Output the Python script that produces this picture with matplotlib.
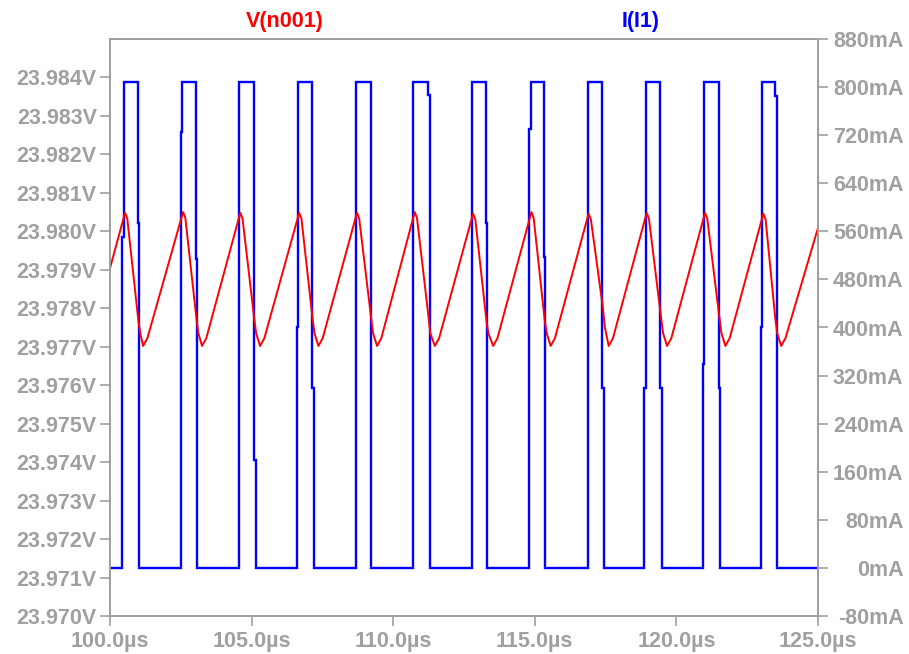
import matplotlib
matplotlib.use("Agg")
import matplotlib.pyplot as plt
from matplotlib.ticker import FixedLocator, FuncFormatter

# ---------------- data ----------------
# I(I1) current pulses (mA)
i_low = 0
i_high = 808
i_rise_t = [100.441, 102.503, 104.553, 106.600, 108.683, 110.684,
            112.767, 114.800, 116.861, 118.859, 120.941, 123.002]
i_rise_skew = [0.060, 0.050, 0.010, 0.046, 0.010, 0.030,
               0.020, 0.050, 0.020, 0.060, 0.035, 0.035]
i_rise_jog = [551, 725, 400, 400, 400, 551, 562, 730, 580, 300, 340, 400]
i_fall_t = [100.981, 103.028, 105.072, 107.130, 109.202, 111.224,
            113.271, 115.329, 117.376, 119.437, 121.495, 123.472]
i_fall_skew = [0.042, 0.053, 0.070, 0.060, 0.030, 0.070,
               0.025, 0.020, 0.050, 0.056, 0.060, 0.081]
i_fall_jog = [574, 514, 180, 300, 138, 787, 574, 517, 300, 300, 300, 785]

# V(n001) voltage (V)
v_start_t, v_start = 100.0, 23.97904
v_end_t, v_end = 125.0, 23.98009
v_peak_t = [100.53, 102.58, 104.60, 106.68, 108.72, 110.76,
            112.82, 114.88, 116.90, 118.95, 121.01, 123.07]
v_peak = [23.98048, 23.98050, 23.98048, 23.98048, 23.98048, 23.98050,
          23.98046, 23.98050, 23.98046, 23.98048, 23.98048, 23.98046]
v_drop_t = [101.00, 103.05, 105.09, 107.15, 109.22, 111.24,
            113.29, 115.35, 117.40, 119.46, 121.52, 123.49]
v_drop = [23.97769, 23.97775, 23.97775, 23.97775, 23.97775, 23.97782,
          23.97769, 23.97769, 23.97804, 23.97775, 23.97775, 23.97775]
v_step = [23.97735, 23.97735, 23.97735, 23.97735, 23.97735, 23.97735,
          23.97735, 23.97735, 23.97752, 23.97735, 23.97735, 23.97735]
v_min_t = [101.17, 103.25, 105.30, 107.36, 109.43, 111.47,
           113.53, 115.56, 117.61, 119.67, 121.73, 123.70]
v_min = [23.97702, 23.97702, 23.97702, 23.97702, 23.97702, 23.97702,
         23.97702, 23.97702, 23.97702, 23.97702, 23.97702, 23.97702]

x_ticks = [100, 105, 110, 115, 120, 125]
v_ticks = [23.970, 23.971, 23.972, 23.973, 23.974, 23.975, 23.976, 23.977,
           23.978, 23.979, 23.980, 23.981, 23.982, 23.983, 23.984]
i_ticks = [-80, 0, 80, 160, 240, 320, 400, 480, 560, 640, 720, 800, 880]

# ---------------- build traces ----------------
it = [v_start_t]
iv = [i_low]
for k in range(len(i_rise_t)):
    rt, rs, rj = i_rise_t[k], i_rise_skew[k], i_rise_jog[k]
    ft, fs, fj = i_fall_t[k], i_fall_skew[k], i_fall_jog[k]
    it += [rt, rt, rt + rs, rt + rs, ft, ft, ft + fs, ft + fs]
    iv += [i_low, rj, rj, i_high, i_high, fj, fj, i_low]
it.append(v_end_t)
iv.append(i_low)

vt = [v_start_t]
vv = [v_start]
for k in range(len(v_peak_t)):
    vt += [v_peak_t[k], v_peak_t[k] + 0.08, v_drop_t[k], v_drop_t[k] + 0.07,
           v_min_t[k], v_min_t[k] + 0.15]
    vv += [v_peak[k], v_peak[k] - 0.00015, v_drop[k], v_step[k],
           v_min[k], v_min[k] + 0.0002]
vt.append(v_end_t)
vv.append(v_end)

# ---------------- style ----------------
GRAY = "#a0a0a0"
FONT = "Liberation Sans"
FS = 15.5

fig = plt.figure(figsize=(9.09, 6.54), dpi=100)
fig.patch.set_facecolor("white")
ax = fig.add_axes([110 / 909, 38 / 654, 708 / 909, 577 / 654])
ax2 = ax.twinx()
ax.set_zorder(ax2.get_zorder() + 1)
ax.patch.set_visible(False)

ax2.plot(it, iv, color="#0000ff", lw=1.7, solid_joinstyle="miter")
ax.plot(vt, vv, color="#ff0000", lw=1.4)

ax.set_xlim(100, 125)
ax.set_ylim(23.970, 23.985)
ax2.set_ylim(-80, 880)

ax.xaxis.set_major_locator(FixedLocator(x_ticks))
ax.xaxis.set_major_formatter(FuncFormatter(lambda x, p: f"{x:.1f}\u00b5s"))
ax.yaxis.set_major_locator(FixedLocator(v_ticks))
ax.yaxis.set_major_formatter(FuncFormatter(lambda y, p: f"{y:.3f}V"))
ax2.yaxis.set_major_locator(FixedLocator(i_ticks))
ax2.yaxis.set_major_formatter(FuncFormatter(lambda y, p: f"{y:.0f}mA"))

for a in (ax, ax2):
    for s in a.spines.values():
        s.set_color(GRAY)
        s.set_linewidth(1.3)

ax.tick_params(axis="both", direction="out", length=7.5, width=1.2,
               color=GRAY, labelcolor=GRAY, labelsize=FS)
ax.tick_params(axis="y", pad=2)
ax.tick_params(axis="x", pad=3)
ax2.tick_params(axis="y", direction="out", length=7.5, width=1.2,
                color=GRAY, labelcolor=GRAY, labelsize=FS, pad=54)

for lbl in ax.get_xticklabels() + ax.get_yticklabels() + ax2.get_yticklabels():
    lbl.set_fontfamily(FONT)
    lbl.set_fontweight("bold")
for lbl in ax2.get_yticklabels():
    lbl.set_horizontalalignment("right")

ax.text(0.247, 1.0295, "V(n001)", transform=ax.transAxes, ha="center",
        va="center", color="#ff0000", fontsize=FS, fontweight="bold",
        family=FONT)
ax.text(0.749, 1.0295, "I(I1)", transform=ax.transAxes, ha="center",
        va="center", color="#0000ff", fontsize=FS, fontweight="bold",
        family=FONT)

fig.savefig("out.png", dpi=100, facecolor="white")
